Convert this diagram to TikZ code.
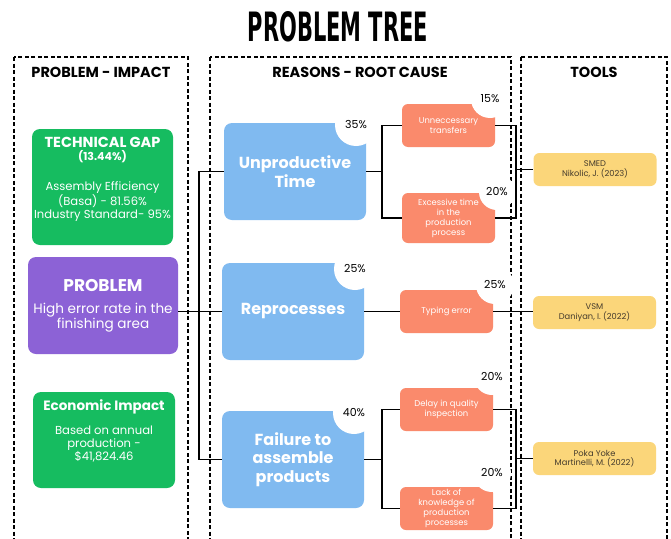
\documentclass[tikz,border=0pt]{standalone}
\usepackage{fontspec}
\setmainfont{Poppins}
\newfontfamily\titlefont{DejaVu Sans Condensed}

\definecolor{gapgreen}{RGB}{22,188,96}
\definecolor{probpurple}{RGB}{140,98,214}
\definecolor{causeblue}{RGB}{128,186,240}
\definecolor{subsalmon}{RGB}{250,138,108}
\definecolor{toolyellow}{RGB}{251,214,122}
\definecolor{tooltext}{RGB}{70,60,45}

\tikzset{
  panel/.style={draw, line width=1.6pt, dash pattern=on 4pt off 2.5pt},
  heading/.style={font=\bfseries\fontsize{14.5}{16}\selectfont},
  impactbox/.style={fill=gapgreen, rounded corners=8pt, text=white, align=center,
    inner sep=0.5pt, font=\fontsize{11.6}{13}\selectfont},
  causebox/.style={fill=causeblue, rounded corners=8pt, text=white, align=center,
    minimum width=142pt, minimum height=97pt, font=\bfseries\fontsize{16}{18.5}\selectfont},
  subbox/.style={fill=subsalmon, rounded corners=6pt, text=white, align=center,
    minimum width=93pt, minimum height=43pt, inner sep=1pt, font=\fontsize{8.4}{10}\selectfont},
  toolbox/.style={fill=toolyellow, rounded corners=6pt, text=tooltext, align=center,
    minimum width=123pt, minimum height=33pt, font=\fontsize{8.3}{9.5}\selectfont},
  pct/.style={circle, fill=white, inner sep=0pt, minimum size=38pt, font=\fontsize{11}{12}\selectfont},
  link/.style={line width=1.1pt}
}

\begin{document}
\begin{tikzpicture}[x=1pt,y=-1pt]
\useasboundingbox (0,0) rectangle (671,538);
\fill[white] (0,0) rectangle (671,538);

% title and the three columns
\node (title) at (338,27) {\titlefont\bfseries\resizebox{180pt}{30pt}{PROBLEM TREE}};
\draw[panel] (14,57) rectangle (188,550);
\draw[panel] (210,57) rectangle (511,550);
\draw[panel] (521,57) rectangle (667,550);
\node[heading] (hImpact) at (101,72) {PROBLEM - IMPACT};
\node[heading] (hCause) at (360,72) {REASONS - ROOT CAUSE};
\node[heading] (hTools) at (594,72) {TOOLS};

% problem - impact
\node[impactbox, minimum width=141pt, minimum height=116pt] (gap) at (102.5,187)
  {{\bfseries\fontsize{14.5}{14}\selectfont TECHNICAL GAP}\\
   {\bfseries\fontsize{11}{14}\selectfont (13.44\%)}\\[17pt]
   Assembly Efficiency\\(Basa) - 81.56\%\\Industry Standard- 95\%\\[6pt]\mbox{}};
\node[impactbox, fill=probpurple, minimum width=150pt, minimum height=97pt,
  font=\fontsize{13.6}{15}\selectfont] (prob) at (103,305.5)
  {{\bfseries\fontsize{17}{17}\selectfont PROBLEM}\\[7pt]
   High error rate in the\\finishing area};
\node[impactbox, minimum width=142pt, minimum height=96pt] (econ) at (104,440)
  {{\bfseries\fontsize{13.5}{13}\selectfont Economic Impact}\\[11pt]
   Based on annual\\production -\\\$41,824.46\\[6pt]\mbox{}};

% root causes
\node[causebox] (ut) at (295,171.5) {Unproductive\\Time};
\node[causebox] (rp) at (293,311.5) {Reprocesses};
\node[causebox] (fa) at (293,459.5) {Failure to\\assemble\\products};
\node[pct, minimum size=42pt] (pUt) at (356,125) {35\%};
\node[pct, minimum size=42pt] (pRp) at (355,269) {25\%};
\node[pct, minimum size=42pt] (pFa) at (354,413) {40\%};

\node[subbox] (t1) at (448.5,125.5) {Unneccessary\\transfers};
\node[subbox, minimum height=50pt] (t2) at (448.5,218) {Excessive time\\in the\\production\\process};
\node[subbox] (t3) at (446.5,311.5) {Typing error};
\node[subbox] (t4) at (446.5,409.5) {Delay in quality\\inspection};
\node[subbox] (t5) at (446.5,508.5) {Lack of\\knowledge of\\production\\processes};
\node[pct] (p1) at (490,99) {15\%};
\node[pct, minimum size=36pt] (p2) at (497,192) {20\%};
\node[pct] (p3) at (495,285) {25\%};
\node[pct, minimum size=36pt] (p4) at (492,377) {20\%};
\node[pct] (p5) at (492,473) {20\%};

% tools
\node[toolbox] (smed) at (595,169.5) {SMED\\Nikolic, J. (2023)};
\node[toolbox] (vsm) at (594.5,312.5) {VSM\\Daniyan, I. (2022)};
\node[toolbox] (poka) at (594.5,458.5) {Poka Yoke\\Martinelli, M. (2022)};

% connectors
\coordinate (jL) at (199,0);
\coordinate (jM) at (382,0);
\coordinate (jR) at (516,0);
\draw[link] (ut.west) -- (ut.west -| jL) -- (fa.west -| jL) -- (fa.west);
\draw[link] (prob.east |- rp.west) -- (rp.west);
\draw[link] (ut.east) -- (ut.east -| jM);
\draw[link] (t1.west) -- (t1.west -| jM) -- (t2.west -| jM) -- (t2.west);
\draw[link] (rp.east) -- (t3.west);
\draw[link] (fa.east) -- (fa.east -| jM);
\draw[link] (t4.west) -- (t4.west -| jM) -- (t5.west -| jM) -- (t5.west);
\draw[link] (t1.east) -- (t1.east -| jR) -- (t2.east -| jR) -- (t2.east);
\draw[link] (smed.west -| jR) -- (smed.west);
\draw[link] (t3.east) -- (vsm.west |- t3.east);
\draw[link] (t4.east) -- (t4.east -| jR) -- (t5.east -| jR) -- (t5.east);
\draw[link] (poka.west -| jR) -- (poka.west);
\end{tikzpicture}
\end{document}
